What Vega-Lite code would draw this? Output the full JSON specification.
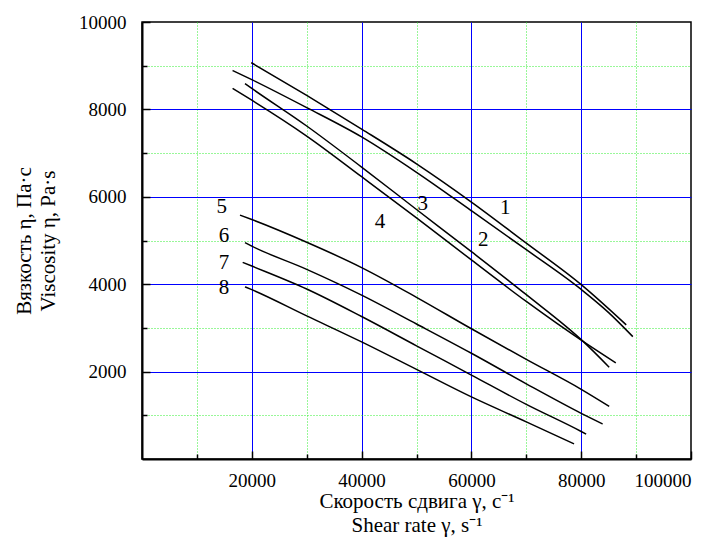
{
  "$schema": "https://vega.github.io/schema/vega-lite/v6.json",
  "width": 549,
  "height": 437,
  "autosize": {"type": "none"},
  "padding": {"left": 142, "top": 22, "right": 22, "bottom": 88},
  "background": "white",
  "config": {
    "view": {"stroke": "black", "strokeWidth": 1.5},
    "font": "Liberation Serif"
  },
  "datasets": {
    "curves": [
      {"c": "1", "x": 19900, "y": 9070}, {"c": "1", "x": 30000, "y": 8320}, {"c": "1", "x": 40000, "y": 7550}, {"c": "1", "x": 50000, "y": 6755}, {"c": "1", "x": 60000, "y": 5880}, {"c": "1", "x": 70000, "y": 4940}, {"c": "1", "x": 80000, "y": 3990}, {"c": "1", "x": 88200, "y": 3070},
      {"c": "2", "x": 16500, "y": 8890}, {"c": "2", "x": 20000, "y": 8680}, {"c": "2", "x": 30000, "y": 8040}, {"c": "2", "x": 40000, "y": 7370}, {"c": "2", "x": 50000, "y": 6560}, {"c": "2", "x": 60000, "y": 5680}, {"c": "2", "x": 70000, "y": 4790}, {"c": "2", "x": 80000, "y": 3880}, {"c": "2", "x": 85000, "y": 3350}, {"c": "2", "x": 89400, "y": 2800},
      {"c": "3", "x": 18760, "y": 8590}, {"c": "3", "x": 20000, "y": 8480}, {"c": "3", "x": 30000, "y": 7620}, {"c": "3", "x": 40000, "y": 6680}, {"c": "3", "x": 50000, "y": 5710}, {"c": "3", "x": 60000, "y": 4745}, {"c": "3", "x": 70000, "y": 3760}, {"c": "3", "x": 80400, "y": 2685}, {"c": "3", "x": 85100, "y": 2100},
      {"c": "4", "x": 16500, "y": 8480}, {"c": "4", "x": 20000, "y": 8210}, {"c": "4", "x": 30000, "y": 7390}, {"c": "4", "x": 40000, "y": 6460}, {"c": "4", "x": 50000, "y": 5520}, {"c": "4", "x": 60000, "y": 4555}, {"c": "4", "x": 70000, "y": 3605}, {"c": "4", "x": 80400, "y": 2685}, {"c": "4", "x": 86300, "y": 2200},
      {"c": "5", "x": 17850, "y": 5580}, {"c": "5", "x": 20000, "y": 5480}, {"c": "5", "x": 30000, "y": 4960}, {"c": "5", "x": 40000, "y": 4380}, {"c": "5", "x": 50000, "y": 3700}, {"c": "5", "x": 60000, "y": 2980}, {"c": "5", "x": 70000, "y": 2280}, {"c": "5", "x": 80000, "y": 1595}, {"c": "5", "x": 85100, "y": 1205},
      {"c": "6", "x": 18760, "y": 4950}, {"c": "6", "x": 20000, "y": 4870}, {"c": "6", "x": 30000, "y": 4340}, {"c": "6", "x": 40000, "y": 3750}, {"c": "6", "x": 50000, "y": 3090}, {"c": "6", "x": 60000, "y": 2420}, {"c": "6", "x": 70000, "y": 1720}, {"c": "6", "x": 80000, "y": 1045}, {"c": "6", "x": 83900, "y": 800},
      {"c": "7", "x": 18340, "y": 4500}, {"c": "7", "x": 20000, "y": 4415}, {"c": "7", "x": 30000, "y": 3890}, {"c": "7", "x": 40000, "y": 3260}, {"c": "7", "x": 50000, "y": 2590}, {"c": "7", "x": 60000, "y": 1920}, {"c": "7", "x": 70000, "y": 1250}, {"c": "7", "x": 80000, "y": 630}, {"c": "7", "x": 80900, "y": 570},
      {"c": "8", "x": 18760, "y": 3940}, {"c": "8", "x": 20000, "y": 3875}, {"c": "8", "x": 30000, "y": 3275}, {"c": "8", "x": 40000, "y": 2680}, {"c": "8", "x": 50000, "y": 2050}, {"c": "8", "x": 60000, "y": 1420}, {"c": "8", "x": 70000, "y": 850}, {"c": "8", "x": 78700, "y": 345}
    ],
    "labels": [
      {"t": "1", "x": 66150, "y": 5740},
      {"t": "2", "x": 62170, "y": 5010},
      {"t": "3", "x": 51130, "y": 5830},
      {"t": "4", "x": 43350, "y": 5430},
      {"t": "5", "x": 14520, "y": 5760},
      {"t": "6", "x": 14940, "y": 5100},
      {"t": "7", "x": 14940, "y": 4490},
      {"t": "8", "x": 14940, "y": 3905}
    ]
  },
  "layer": [
    {
      "data": {"name": "curves"},
      "mark": {"type": "line", "color": "black", "strokeWidth": 1.5, "interpolate": "monotone"},
      "encoding": {
        "x": {
          "field": "x", "type": "quantitative",
          "scale": {"domain": [0, 100000], "nice": false},
          "axis": {
            "orient": "bottom",
            "values": [20000, 40000, 60000, 80000, 100000],
            "format": "d",
            "grid": true, "gridColor": "#0000ff", "gridWidth": 1,
            "gridOpacity": {"condition": {"test": "datum.value >= 100000", "value": 0}, "value": 1},
            "domainColor": "black", "domainWidth": 2,
            "tickColor": "black", "tickSize": -8, "tickWidth": 1.5,
            "labelFont": "Liberation Serif", "labelFontSize": 19, "labelColor": "black", "labelPadding": 20,
            "title": ["Скорость сдвига γ, с⁻¹", "Shear rate γ, s⁻¹"],
            "titleFont": "Liberation Serif", "titleFontSize": 21, "titleFontWeight": "normal", "titleColor": "black",
            "titleX": 274.5, "titleY": 42, "titleAlign": "center", "titleBaseline": "middle", "titleLineHeight": 24
          }
        },
        "y": {
          "field": "y", "type": "quantitative",
          "scale": {"domain": [0, 10000], "nice": false},
          "axis": {
            "orient": "left",
            "values": [2000, 4000, 6000, 8000, 10000],
            "format": "d",
            "grid": true, "gridColor": "#0000ff", "gridWidth": 1,
            "gridOpacity": {"condition": {"test": "datum.value >= 10000", "value": 0}, "value": 1},
            "domainColor": "black", "domainWidth": 2,
            "tickColor": "black", "tickSize": -8, "tickWidth": 1.5,
            "labelFont": "Liberation Serif", "labelFontSize": 19, "labelColor": "black", "labelPadding": 24,
            "title": ["Вязкость η, Па·с", "Viscosity η, Pa·s"],
            "titleFont": "Liberation Serif", "titleFontSize": 21, "titleFontWeight": "normal", "titleColor": "black",
            "titleX": -118, "titleY": 218.5, "titleAngle": -90, "titleAlign": "center", "titleBaseline": "middle", "titleLineHeight": 24
          }
        },
        "detail": {"field": "c", "type": "nominal"}
      }
    },
    {
      "data": {"name": "labels"},
      "mark": {"type": "text", "font": "Liberation Serif", "fontSize": 21, "color": "black", "align": "center", "baseline": "middle"},
      "encoding": {
        "x": {
          "field": "x", "type": "quantitative",
          "axis": {
            "orient": "bottom",
            "values": [10000, 30000, 50000, 70000, 90000],
            "grid": true, "gridColor": "#33ee33", "gridDash": [1, 2], "gridWidth": 1,
            "labels": false, "domain": false, "title": null,
            "tickColor": "black", "tickSize": -5, "tickWidth": 1.5
          }
        },
        "y": {
          "field": "y", "type": "quantitative",
          "axis": {
            "orient": "left",
            "values": [1000, 3000, 5000, 7000, 9000],
            "grid": true, "gridColor": "#33ee33", "gridDash": [1, 2], "gridWidth": 1,
            "labels": false, "domain": false, "title": null,
            "tickColor": "black", "tickSize": -5, "tickWidth": 1.5
          }
        },
        "text": {"field": "t", "type": "nominal"}
      }
    }
  ],
  "resolve": {"axis": {"x": "independent", "y": "independent"}}
}
